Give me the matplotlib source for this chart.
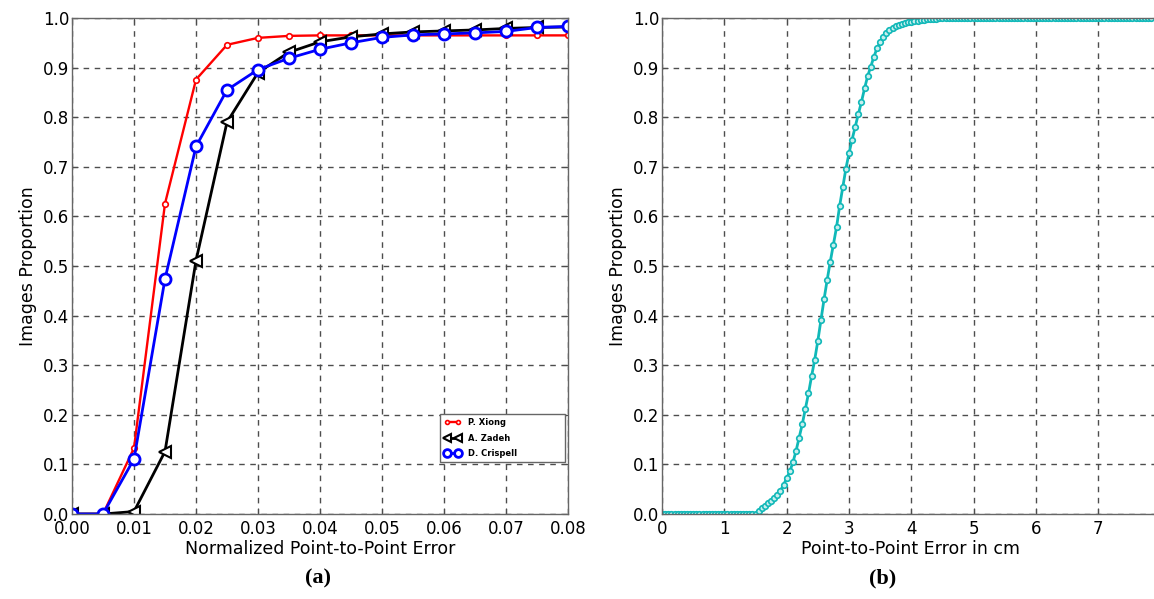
import numpy as np
import matplotlib
matplotlib.use('Agg')
import matplotlib.pyplot as plt

# ---------------- data: panel (a) ----------------
err_a = [0.000, 0.005, 0.010, 0.015, 0.020, 0.025, 0.030, 0.035, 0.040,
         0.045, 0.050, 0.055, 0.060, 0.065, 0.070, 0.075, 0.080]
xiong = [0.000, 0.000, 0.133, 0.626, 0.876, 0.946, 0.960, 0.964, 0.965,
         0.965, 0.965, 0.965, 0.965, 0.965, 0.965, 0.965, 0.965]
zadeh = [0.000, 0.000, 0.005, 0.126, 0.511, 0.790, 0.890, 0.931, 0.952,
         0.962, 0.968, 0.972, 0.974, 0.976, 0.979, 0.981, 0.982]
crispell = [0.000, 0.000, 0.111, 0.474, 0.741, 0.855, 0.896, 0.919, 0.937,
            0.950, 0.961, 0.966, 0.968, 0.970, 0.973, 0.981, 0.983]
legend_labels = ['P. Xiong', 'A. Zadeh', 'D. Crispell']

# ---------------- data: panel (b) ----------------
# CDF sampled every 0.05 cm
zero_part = [0.0] * 31          # 0.00 .. 1.50
rise_part = [0.006, 0.012, 0.017, 0.022, 0.027, 0.033, 0.039, 0.047, 0.059,
             0.072, 0.086, 0.104, 0.127, 0.154, 0.181, 0.212, 0.243, 0.278,
             0.311, 0.349, 0.391, 0.433, 0.472, 0.509, 0.543, 0.578, 0.621,
             0.659, 0.696, 0.727, 0.755, 0.781, 0.806, 0.831, 0.858, 0.883,
             0.902, 0.922, 0.939, 0.951, 0.961, 0.969, 0.975, 0.980, 0.983,
             0.986, 0.988, 0.990, 0.992, 0.993, 0.994, 0.995, 0.996, 0.997,
             0.998, 0.998, 0.999, 0.999]   # 1.55 .. 4.40
one_part = [1.0] * 69           # 4.45 .. 7.85
cdf_b = zero_part + rise_part + one_part
err_b = np.round(np.arange(len(cdf_b)) * 0.05, 2)

# ---------------- figure ----------------
plt.rcParams.update({
    'font.family': 'DejaVu Sans',
    'xtick.direction': 'in',
    'ytick.direction': 'in',
    'xtick.top': True,
    'ytick.right': True,
})

fig = plt.figure(figsize=(11.54, 5.99), dpi=100)
ax1 = fig.add_axes([0.0624, 0.1419, 0.4298, 0.828])
ax2 = fig.add_axes([0.5737, 0.1419, 0.4298, 0.828])

GRID = dict(color='0.3', ls='--', lw=1.0, dashes=(4, 4))

# --- (a) ---
ax1.plot(err_a, xiong, color='red', lw=1.7, marker='o', ms=4,
         mfc='white', mec='red', mew=1.2, label=legend_labels[0])
ax1.plot(err_a, zadeh, color='black', lw=2, marker='<', ms=8,
         mfc='white', mec='black', mew=1.5, label=legend_labels[1])
ax1.plot(err_a, crispell, color='blue', lw=2, marker='o', ms=8,
         mfc='white', mec='blue', mew=2, label=legend_labels[2])
ax1.set_xlim(0, 0.08)
ax1.set_ylim(0, 1.0)
ax1.set_xticks(np.arange(0, 0.081, 0.01))
ax1.set_xticklabels([f'{v:.2f}' for v in np.arange(0, 0.081, 0.01)])
ax1.set_yticks(np.arange(0, 1.01, 0.1))
ax1.set_yticklabels([f'{v:.1f}' for v in np.arange(0, 1.01, 0.1)])
ax1.grid(True, **GRID)
ax1.set_xlabel('Normalized Point-to-Point Error', fontsize=12.5, labelpad=2)
ax1.set_ylabel('Images Proportion', fontsize=12.5)
leg = ax1.legend(loc='lower left', bbox_to_anchor=(0.742, 0.104, 0.252, 0.09),
                 mode='expand', numpoints=2, fancybox=False, framealpha=1,
                 prop={'size': 6, 'weight': 'bold'}, handlelength=2.0,
                 markerscale=0.7, borderpad=0.5, labelspacing=0.8,
                 borderaxespad=0)
leg.get_frame().set_edgecolor('0.4')
leg.get_frame().set_linewidth(1.0)

# --- (b) ---
ax2.plot(err_b, cdf_b, color='#10b8b8', lw=2, marker='o', ms=4,
         mfc='#c8eeee', mec='#10b8b8', mew=1.2)
ax2.set_xlim(0, 7.96)
ax2.set_ylim(0, 1.0)
ax2.set_xticks(range(0, 8))
ax2.set_yticks(np.arange(0, 1.01, 0.1))
ax2.set_yticklabels([f'{v:.1f}' for v in np.arange(0, 1.01, 0.1)])
ax2.grid(True, **GRID)
ax2.set_xlabel('Point-to-Point Error in cm', fontsize=12.5, labelpad=2)
ax2.set_ylabel('Images Proportion', fontsize=12.5)

for ax in (ax1, ax2):
    ax.tick_params(labelsize=12, length=4, color='0.3')
    ax.tick_params(axis='y', pad=2)
    ax.tick_params(axis='x', pad=4)
    for sp in ax.spines.values():
        sp.set_color('0.4')
        sp.set_linewidth(1.0)

fig.text(0.2755, 0.035, '(a)', ha='center', va='center',
         fontsize=16, fontweight='bold', family='Liberation Serif')
fig.text(0.7645, 0.035, '(b)', ha='center', va='center',
         fontsize=16, fontweight='bold', family='Liberation Serif')

fig.savefig('out.png', dpi=100)
